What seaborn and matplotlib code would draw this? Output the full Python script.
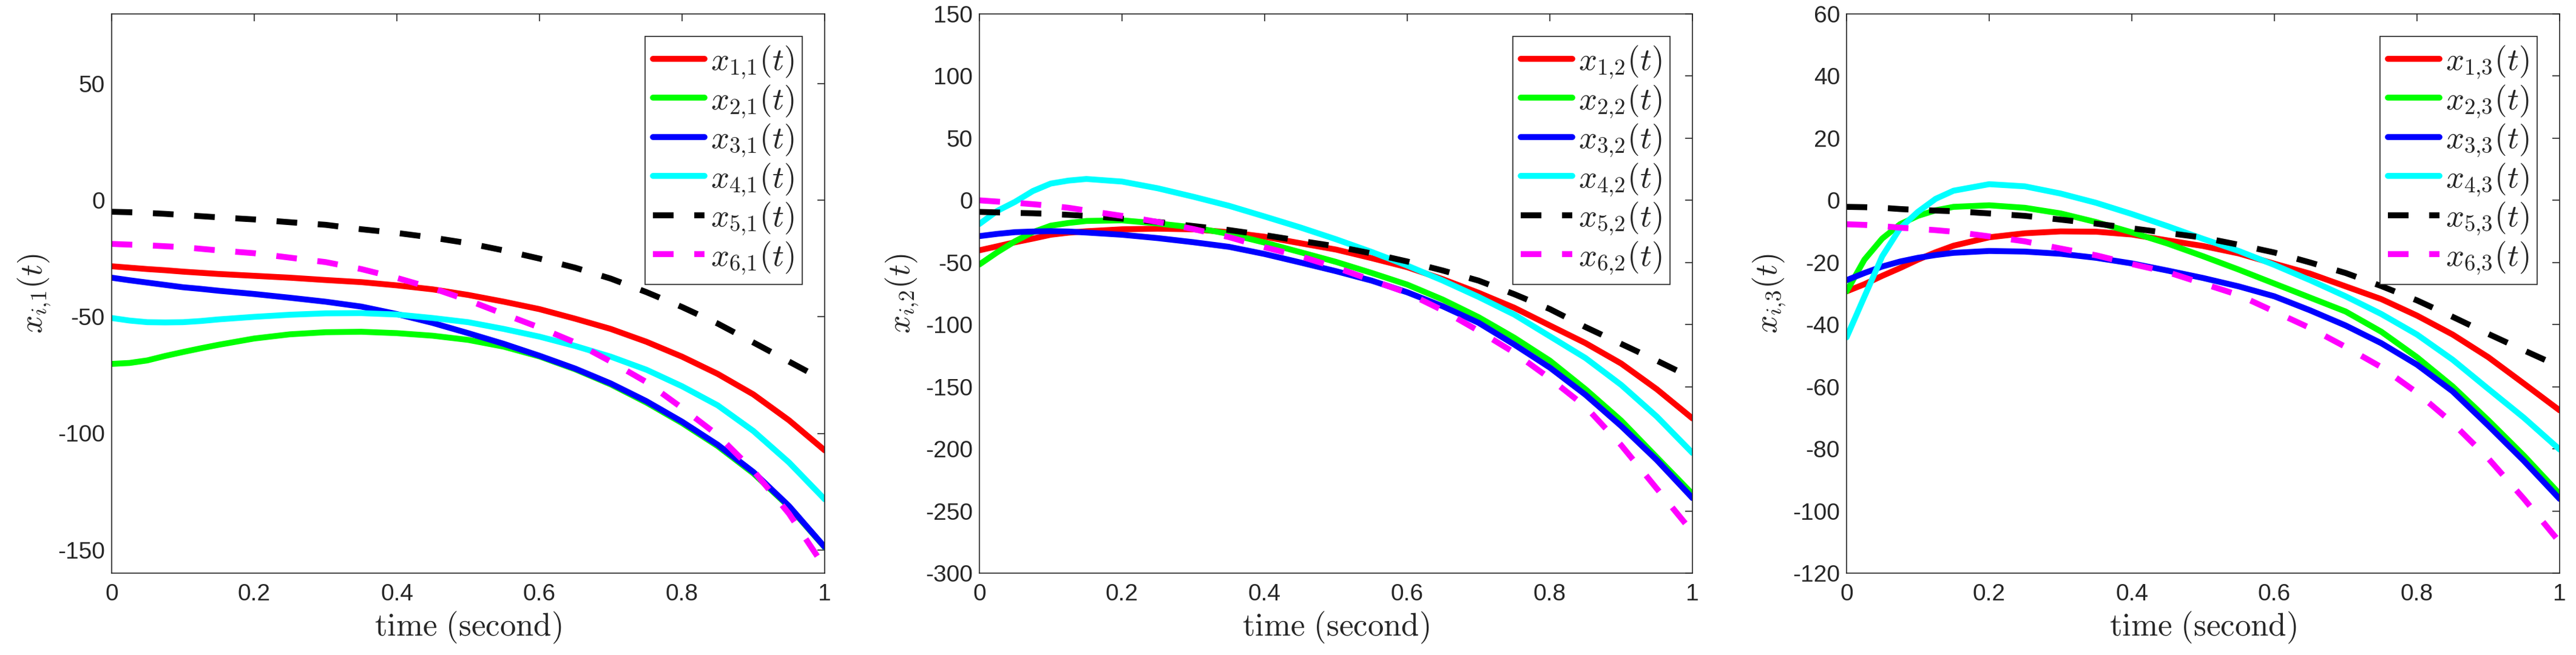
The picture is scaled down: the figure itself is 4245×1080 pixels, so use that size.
import numpy as np
import pandas as pd
import seaborn as sns
import matplotlib.pyplot as plt
from matplotlib.ticker import FormatStrFormatter

# time samples (seconds)
t = [0, 0.025, 0.05, 0.075, 0.1, 0.125, 0.15, 0.2, 0.25, 0.3, 0.35, 0.4, 0.45, 0.5,
     0.55, 0.6, 0.65, 0.7, 0.75, 0.8, 0.85, 0.9, 0.95, 1.0]

# component 1
x11 = [-28.3, -28.9, -29.5, -30.0, -30.6, -31.1, -31.6, -32.4, -33.2, -34.2, -35.1, -36.5, -38.2, -40.6,
       -43.5, -46.7, -50.8, -55.2, -60.7, -67.1, -74.5, -83.3, -94.4, -107.3]
x21 = [-70.2, -69.8, -68.7, -66.8, -65.1, -63.5, -62.0, -59.3, -57.5, -56.6, -56.4, -57.0, -58.1, -59.9,
       -62.8, -67.0, -72.5, -79.0, -86.8, -95.6, -105.5, -117.2, -131.5, -148.9]
x31 = [-33.2, -34.3, -35.3, -36.3, -37.3, -38.0, -38.8, -40.2, -41.8, -43.5, -45.6, -48.8, -52.6, -57.0,
       -61.6, -66.7, -72.2, -78.6, -86.2, -95.0, -104.9, -116.6, -131.2, -148.8]
x41 = [-50.5, -51.6, -52.3, -52.4, -52.3, -51.8, -51.1, -50.0, -49.1, -48.5, -48.4, -49.0, -50.5, -52.3,
       -55.2, -58.5, -62.5, -67.1, -72.7, -79.8, -88.0, -99.0, -112.5, -128.3]
x51 = [-4.9, -5.1, -5.4, -5.8, -6.3, -6.8, -7.3, -8.2, -9.4, -10.5, -12.4, -14.0, -16.0, -18.4,
       -21.5, -25.0, -28.9, -33.6, -39.4, -45.8, -52.9, -61.0, -69.2, -77.4]
x61 = [-18.7, -19.0, -19.3, -19.7, -20.1, -20.8, -21.5, -22.7, -24.6, -26.5, -29.5, -33.3, -37.7, -42.9,
       -48.8, -54.6, -61.0, -69.2, -78.0, -89.1, -100.8, -116.0, -134.5, -157.5]

# component 2
x12 = [-40.2, -37.0, -33.7, -30.8, -27.7, -26.0, -24.9, -23.3, -22.8, -23.3, -25.7, -29.3, -34.5, -39.6,
       -46.5, -53.8, -63.5, -74.4, -86.4, -100.7, -114.9, -131.3, -152.0, -175.5]
x22 = [-51.6, -41.8, -32.9, -25.6, -20.4, -18.2, -16.6, -16.1, -18.6, -21.8, -27.0, -34.0, -41.7, -49.5,
       -58.4, -67.8, -79.9, -94.0, -110.5, -129.0, -152.0, -177.2, -206.8, -236.3]
x32 = [-28.8, -27.0, -25.6, -25.1, -24.8, -25.1, -25.9, -27.7, -30.4, -33.7, -37.4, -43.2, -50.0, -57.0,
       -64.6, -74.0, -85.3, -98.5, -116.0, -134.6, -156.5, -181.6, -209.0, -239.6]
x42 = [-19.0, -8.5, -1.2, 7.5, 13.5, 15.9, 17.2, 15.1, 9.7, 2.9, -4.4, -13.0, -21.8, -31.3,
       -41.5, -52.5, -64.6, -77.7, -91.9, -109.4, -126.9, -148.5, -174.0, -203.3]
x52 = [-9.3, -9.7, -10.1, -10.4, -10.9, -11.7, -12.5, -14.7, -17.4, -20.7, -23.9, -28.0, -32.6, -37.0,
       -42.7, -49.2, -56.5, -64.6, -75.5, -87.5, -102.0, -115.5, -129.0, -143.0]
x62 = [0.0, -1.0, -2.0, -3.1, -4.4, -6.0, -8.2, -12.5, -17.4, -23.1, -29.6, -37.8, -45.0, -54.0,
       -64.2, -74.5, -88.6, -105.0, -122.5, -143.3, -166.0, -197.0, -232.0, -267.0]

# component 3
x13 = [-29.3, -27.0, -24.3, -21.8, -19.1, -16.7, -14.6, -11.9, -10.6, -10.0, -10.1, -11.0, -12.9, -14.7,
       -17.1, -20.4, -23.6, -27.7, -31.8, -37.1, -43.2, -50.5, -59.0, -67.6]
x23 = [-29.3, -19.1, -12.3, -7.7, -5.0, -3.2, -2.1, -1.6, -2.4, -4.2, -7.0, -10.3, -13.9, -18.0,
       -22.3, -26.8, -31.3, -35.8, -42.3, -50.5, -59.9, -70.8, -82.2, -94.5]
x33 = [-25.7, -23.4, -21.3, -19.7, -18.5, -17.6, -16.9, -16.3, -16.5, -17.2, -18.5, -20.3, -22.6, -25.0,
       -27.7, -30.9, -35.4, -40.3, -46.0, -52.9, -61.5, -72.5, -83.9, -96.1]
x43 = [-44.1, -31.0, -18.0, -9.0, -3.7, 0.5, 3.1, 5.2, 4.5, 2.2, -0.8, -4.4, -8.3, -12.4,
       -16.3, -20.8, -25.7, -30.9, -36.6, -43.2, -51.3, -60.7, -70.0, -80.2]
x53 = [-2.1, -2.2, -2.4, -2.8, -3.1, -3.3, -3.5, -4.2, -5.0, -6.2, -7.5, -9.0, -10.5, -12.0,
       -14.3, -16.8, -20.0, -23.4, -27.6, -32.2, -37.5, -43.0, -48.3, -53.5]
x63 = [-7.7, -7.9, -8.3, -8.8, -9.2, -9.6, -10.1, -11.6, -13.2, -15.5, -17.7, -20.5, -23.1, -26.8,
       -30.5, -35.8, -41.1, -47.2, -53.7, -61.9, -71.7, -83.1, -96.1, -110.0]

panels = [[x11, x21, x31, x41, x51, x61],
          [x12, x22, x32, x42, x52, x62],
          [x13, x23, x33, x43, x53, x63]]
ylims = [(-160, 80), (-300, 150), (-120, 60)]
yticks = [[-150, -100, -50, 0, 50],
          [-300, -250, -200, -150, -100, -50, 0, 50, 100, 150],
          [-120, -100, -80, -60, -40, -20, 0, 20, 40, 60]]
xticks = [0, 0.2, 0.4, 0.6, 0.8, 1]

colors = ['#ff0000', '#00ff00', '#0000ff', '#00ffff', '#000000', '#ff00ff']
dash_styles = ['', '', '', '', (3.5, 3.5), (3.5, 3.5)]

sns.set_theme(style='white')
plt.rcParams['font.family'] = ['Liberation Sans', 'DejaVu Sans']
plt.rcParams['mathtext.fontset'] = 'cm'

fig = plt.figure(figsize=(42.45, 10.8), dpi=100)
lefts = [184 / 4245, 1614 / 4245, 3043 / 4245]
width = 1175 / 4245
bottom = 1 - 945 / 1080
height = 922 / 1080

axis_col = '#262626'

for j, curves in enumerate(panels):
    ax = fig.add_axes([lefts[j], bottom, width, height])
    labels = [r'$x_{%d{,}%d}(t)$' % (i + 1, j + 1) for i in range(6)]
    df = pd.DataFrame({
        't': t * 6,
        'value': np.concatenate(curves),
        'series': np.repeat(labels, len(t)),
    })
    sns.lineplot(data=df, x='t', y='value', hue='series', style='series',
                 hue_order=labels, style_order=labels,
                 palette=dict(zip(labels, colors)),
                 dashes=dict(zip(labels, dash_styles)),
                 linewidth=7, errorbar=None, legend=False, ax=ax)

    ax.set_xlim(0, 1)
    ax.set_ylim(*ylims[j])
    ax.set_xticks(xticks)
    ax.set_yticks(yticks[j])
    ax.xaxis.set_major_formatter(FormatStrFormatter('%g'))
    ax.yaxis.set_major_formatter(FormatStrFormatter('%g'))
    ax.tick_params(direction='in', length=8.5, width=1.2, top=True, right=True,
                   labelsize=28, colors=axis_col)
    ax.tick_params(axis='x', pad=12)
    ax.tick_params(axis='y', pad=8)
    for s in ax.spines.values():
        s.set_visible(True)
        s.set_color(axis_col)
        s.set_linewidth(1.2)

    ax.set_xlabel(r'$\mathrm{time\ (second)}$', fontsize=38, labelpad=6, color=axis_col)
    ax.set_ylabel(r'$x_{i{,}%d}(t)$' % (j + 1), fontsize=38, labelpad=6, color=axis_col)

    leg = ax.legend(ax.get_lines()[:6], labels, loc='upper right', fontsize=38,
                    frameon=True, fancybox=False, framealpha=1, edgecolor=axis_col,
                    handlelength=1.6, handletextpad=0.2, borderpad=0.25,
                    labelspacing=0.08, borderaxespad=0.7)
    leg.get_frame().set_linewidth(1.2)

fig.savefig('out.png', dpi=100)
